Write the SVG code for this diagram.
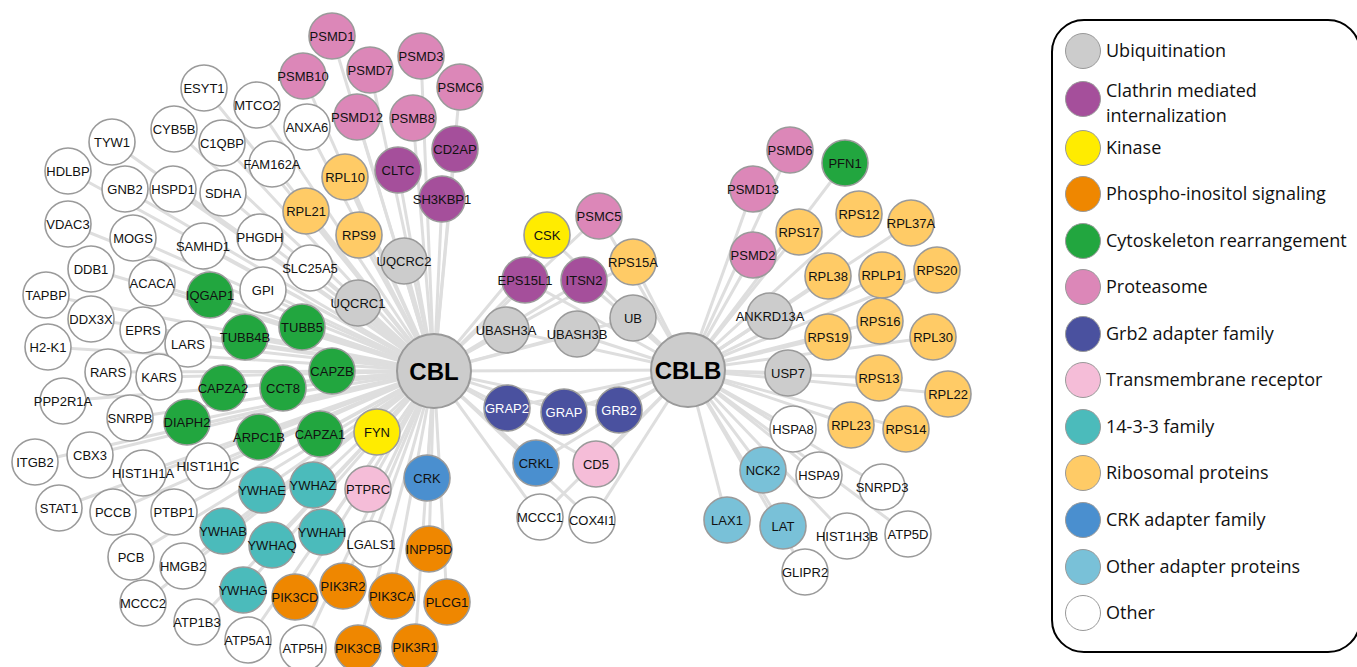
<svg xmlns="http://www.w3.org/2000/svg" width="1357" height="667" viewBox="0 0 1357 667">
<style>
.e line{stroke:#dedede;stroke-width:3}
.n circle{stroke:#9a9a9a;stroke-width:1.6}
.n text{font-family:"Liberation Sans",Arial,sans-serif;font-size:13px;text-anchor:middle;fill:#111}
.hub circle{fill:#cccccc;stroke:#9a9a9a;stroke-width:2}
.hub text{font-family:"Liberation Sans",Arial,sans-serif;font-size:24px;font-weight:bold;text-anchor:middle;fill:#000}
.ub{fill:#cccccc}.cl{fill:#a54f9b}.ki{fill:#ffec00}.ph{fill:#ef8700}.cy{fill:#22a63f}.pr{fill:#dc87b8}
.gr{fill:#4a519f}.tm{fill:#f5bdd8}.ff{fill:#4bbbbb}.ri{fill:#ffcb66}.ck{fill:#4a8fcf}.oa{fill:#79c1d8}.ot{fill:#ffffff}
.w text{fill:#fff}
.lg text{font-family:"Open Sans",sans-serif;font-size:18px;fill:#111}
.lg circle{stroke:#999;stroke-width:1}
</style>
<g class="e" id="connectors">
<line x1="434" y1="371" x2="688" y2="370"/>
<line x1="434" y1="371" x2="332" y2="36"/><line x1="434" y1="371" x2="303" y2="76"/><line x1="434" y1="371" x2="370" y2="70"/>
<line x1="434" y1="371" x2="421" y2="56"/><line x1="434" y1="371" x2="460" y2="87"/><line x1="434" y1="371" x2="357" y2="117"/>
<line x1="434" y1="371" x2="413" y2="118"/><line x1="434" y1="371" x2="455" y2="149"/><line x1="434" y1="371" x2="398" y2="170"/>
<line x1="434" y1="371" x2="442" y2="199"/><line x1="434" y1="371" x2="204" y2="88"/><line x1="434" y1="371" x2="257" y2="105"/>
<line x1="434" y1="371" x2="307" y2="127"/><line x1="434" y1="371" x2="174" y2="129"/><line x1="434" y1="371" x2="112" y2="142"/>
<line x1="434" y1="371" x2="222" y2="143"/><line x1="434" y1="371" x2="272" y2="164"/><line x1="434" y1="371" x2="345" y2="177"/>
<line x1="434" y1="371" x2="68" y2="171"/><line x1="434" y1="371" x2="125" y2="189"/><line x1="434" y1="371" x2="173" y2="189"/>
<line x1="434" y1="371" x2="223" y2="193"/><line x1="434" y1="371" x2="306" y2="211"/><line x1="434" y1="371" x2="359" y2="235"/>
<line x1="434" y1="371" x2="404" y2="261"/><line x1="434" y1="371" x2="68" y2="224"/><line x1="434" y1="371" x2="133" y2="238"/>
<line x1="434" y1="371" x2="203" y2="246"/><line x1="434" y1="371" x2="260" y2="237"/><line x1="434" y1="371" x2="310" y2="268"/>
<line x1="434" y1="371" x2="91" y2="269"/><line x1="434" y1="371" x2="152" y2="283"/><line x1="434" y1="371" x2="46" y2="295"/>
<line x1="434" y1="371" x2="210" y2="295"/><line x1="434" y1="371" x2="263" y2="290"/><line x1="434" y1="371" x2="358" y2="303"/>
<line x1="434" y1="371" x2="91" y2="319"/><line x1="434" y1="371" x2="143" y2="330"/><line x1="434" y1="371" x2="188" y2="344"/>
<line x1="434" y1="371" x2="245" y2="337"/><line x1="434" y1="371" x2="302" y2="327"/><line x1="434" y1="371" x2="48" y2="347"/>
<line x1="434" y1="371" x2="108" y2="372"/><line x1="434" y1="371" x2="159" y2="377"/><line x1="434" y1="371" x2="223" y2="388"/>
<line x1="434" y1="371" x2="283" y2="388"/><line x1="434" y1="371" x2="332" y2="371"/><line x1="434" y1="371" x2="63" y2="401"/>
<line x1="434" y1="371" x2="130" y2="418"/><line x1="434" y1="371" x2="187" y2="422"/><line x1="434" y1="371" x2="259" y2="437"/>
<line x1="434" y1="371" x2="320" y2="434"/><line x1="434" y1="371" x2="377" y2="432"/><line x1="434" y1="371" x2="35" y2="462"/>
<line x1="434" y1="371" x2="90" y2="455"/><line x1="434" y1="371" x2="143" y2="473"/><line x1="434" y1="371" x2="208" y2="466"/>
<line x1="434" y1="371" x2="262" y2="490"/><line x1="434" y1="371" x2="313" y2="485"/><line x1="434" y1="371" x2="368" y2="489"/>
<line x1="434" y1="371" x2="427" y2="478"/><line x1="434" y1="371" x2="59" y2="508"/><line x1="434" y1="371" x2="113" y2="512"/>
<line x1="434" y1="371" x2="174" y2="512"/><line x1="434" y1="371" x2="223" y2="531"/><line x1="434" y1="371" x2="272" y2="545"/>
<line x1="434" y1="371" x2="322" y2="532"/><line x1="434" y1="371" x2="371" y2="544"/><line x1="434" y1="371" x2="429" y2="549"/>
<line x1="434" y1="371" x2="131" y2="557"/><line x1="434" y1="371" x2="183" y2="566"/><line x1="434" y1="371" x2="243" y2="590"/>
<line x1="434" y1="371" x2="295" y2="597"/><line x1="434" y1="371" x2="343" y2="586"/><line x1="434" y1="371" x2="392" y2="596"/>
<line x1="434" y1="371" x2="447" y2="602"/><line x1="434" y1="371" x2="143" y2="603"/><line x1="434" y1="371" x2="197" y2="622"/>
<line x1="434" y1="371" x2="248" y2="640"/><line x1="434" y1="371" x2="303" y2="648"/><line x1="434" y1="371" x2="358" y2="648"/>
<line x1="434" y1="371" x2="415" y2="647"/>
<line x1="434" y1="371" x2="547" y2="235"/><line x1="688" y1="370" x2="547" y2="235"/>
<line x1="434" y1="371" x2="599" y2="216"/><line x1="688" y1="370" x2="599" y2="216"/>
<line x1="434" y1="371" x2="633" y2="262"/><line x1="688" y1="370" x2="633" y2="262"/>
<line x1="434" y1="371" x2="525" y2="280"/><line x1="688" y1="370" x2="525" y2="280"/>
<line x1="434" y1="371" x2="584" y2="280"/><line x1="688" y1="370" x2="584" y2="280"/>
<line x1="434" y1="371" x2="633" y2="318"/><line x1="688" y1="370" x2="633" y2="318"/>
<line x1="434" y1="371" x2="506" y2="330"/><line x1="688" y1="370" x2="506" y2="330"/>
<line x1="434" y1="371" x2="577" y2="334"/><line x1="688" y1="370" x2="577" y2="334"/>
<line x1="434" y1="371" x2="507" y2="408"/><line x1="688" y1="370" x2="507" y2="408"/>
<line x1="434" y1="371" x2="564" y2="412"/><line x1="688" y1="370" x2="564" y2="412"/>
<line x1="434" y1="371" x2="619" y2="410"/><line x1="688" y1="370" x2="619" y2="410"/>
<line x1="434" y1="371" x2="536" y2="463"/><line x1="688" y1="370" x2="536" y2="463"/>
<line x1="434" y1="371" x2="596" y2="464"/><line x1="688" y1="370" x2="596" y2="464"/>
<line x1="434" y1="371" x2="540" y2="517"/><line x1="688" y1="370" x2="540" y2="517"/>
<line x1="434" y1="371" x2="592" y2="520"/><line x1="688" y1="370" x2="592" y2="520"/>
<line x1="688" y1="370" x2="790" y2="150"/><line x1="688" y1="370" x2="845" y2="163"/><line x1="688" y1="370" x2="753" y2="189"/>
<line x1="688" y1="370" x2="859" y2="214"/><line x1="688" y1="370" x2="911" y2="223"/><line x1="688" y1="370" x2="799" y2="232"/>
<line x1="688" y1="370" x2="753" y2="255"/><line x1="688" y1="370" x2="828" y2="276"/><line x1="688" y1="370" x2="882" y2="275"/>
<line x1="688" y1="370" x2="937" y2="270"/><line x1="688" y1="370" x2="770" y2="316"/><line x1="688" y1="370" x2="880" y2="321"/>
<line x1="688" y1="370" x2="828" y2="337"/><line x1="688" y1="370" x2="933" y2="337"/><line x1="688" y1="370" x2="788" y2="373"/>
<line x1="688" y1="370" x2="879" y2="378"/><line x1="688" y1="370" x2="948" y2="394"/><line x1="688" y1="370" x2="793" y2="429"/>
<line x1="688" y1="370" x2="851" y2="425"/><line x1="688" y1="370" x2="906" y2="429"/><line x1="688" y1="370" x2="763" y2="470"/>
<line x1="688" y1="370" x2="819" y2="475"/><line x1="688" y1="370" x2="882" y2="487"/><line x1="688" y1="370" x2="727" y2="520"/>
<line x1="688" y1="370" x2="783" y2="526"/><line x1="688" y1="370" x2="847" y2="536"/><line x1="688" y1="370" x2="908" y2="534"/>
<line x1="688" y1="370" x2="805" y2="572"/>
</g>
<g id="nodes">
<g id="PSMD1" class="n"><circle class="pr" cx="332" cy="36" r="23"/><text x="332" y="36" dy="0.36em">PSMD1</text></g>
<g id="PSMB10" class="n"><circle class="pr" cx="303" cy="76" r="23"/><text x="303" y="76" dy="0.36em">PSMB10</text></g>
<g id="PSMD7" class="n"><circle class="pr" cx="370" cy="70" r="23"/><text x="370" y="70" dy="0.36em">PSMD7</text></g>
<g id="PSMD3" class="n"><circle class="pr" cx="421" cy="56" r="23"/><text x="421" y="56" dy="0.36em">PSMD3</text></g>
<g id="PSMC6" class="n"><circle class="pr" cx="460" cy="87" r="23"/><text x="460" y="87" dy="0.36em">PSMC6</text></g>
<g id="PSMD12" class="n"><circle class="pr" cx="357" cy="117" r="23"/><text x="357" y="117" dy="0.36em">PSMD12</text></g>
<g id="PSMB8" class="n"><circle class="pr" cx="413" cy="118" r="23"/><text x="413" y="118" dy="0.36em">PSMB8</text></g>
<g id="CD2AP" class="n"><circle class="cl" cx="455" cy="149" r="23"/><text x="455" y="149" dy="0.36em">CD2AP</text></g>
<g id="CLTC" class="n"><circle class="cl" cx="398" cy="170" r="23"/><text x="398" y="170" dy="0.36em">CLTC</text></g>
<g id="SH3KBP1" class="n"><circle class="cl" cx="442" cy="199" r="23"/><text x="442" y="199" dy="0.36em">SH3KBP1</text></g>
<g id="ESYT1" class="n"><circle class="ot" cx="204" cy="88" r="23"/><text x="204" y="88" dy="0.36em">ESYT1</text></g>
<g id="MTCO2" class="n"><circle class="ot" cx="257" cy="105" r="23"/><text x="257" y="105" dy="0.36em">MTCO2</text></g>
<g id="ANXA6" class="n"><circle class="ot" cx="307" cy="127" r="23"/><text x="307" y="127" dy="0.36em">ANXA6</text></g>
<g id="CYB5B" class="n"><circle class="ot" cx="174" cy="129" r="23"/><text x="174" y="129" dy="0.36em">CYB5B</text></g>
<g id="TYW1" class="n"><circle class="ot" cx="112" cy="142" r="23"/><text x="112" y="142" dy="0.36em">TYW1</text></g>
<g id="C1QBP" class="n"><circle class="ot" cx="222" cy="143" r="23"/><text x="222" y="143" dy="0.36em">C1QBP</text></g>
<g id="FAM162A" class="n"><circle class="ot" cx="272" cy="164" r="23"/><text x="272" y="164" dy="0.36em">FAM162A</text></g>
<g id="RPL10" class="n"><circle class="ri" cx="345" cy="177" r="23"/><text x="345" y="177" dy="0.36em">RPL10</text></g>
<g id="HDLBP" class="n"><circle class="ot" cx="68" cy="171" r="23"/><text x="68" y="171" dy="0.36em">HDLBP</text></g>
<g id="GNB2" class="n"><circle class="ot" cx="125" cy="189" r="23"/><text x="125" y="189" dy="0.36em">GNB2</text></g>
<g id="HSPD1" class="n"><circle class="ot" cx="173" cy="189" r="23"/><text x="173" y="189" dy="0.36em">HSPD1</text></g>
<g id="SDHA" class="n"><circle class="ot" cx="223" cy="193" r="23"/><text x="223" y="193" dy="0.36em">SDHA</text></g>
<g id="RPL21" class="n"><circle class="ri" cx="306" cy="211" r="23"/><text x="306" y="211" dy="0.36em">RPL21</text></g>
<g id="RPS9" class="n"><circle class="ri" cx="359" cy="235" r="23"/><text x="359" y="235" dy="0.36em">RPS9</text></g>
<g id="UQCRC2" class="n"><circle class="ub" cx="404" cy="261" r="23"/><text x="404" y="261" dy="0.36em">UQCRC2</text></g>
<g id="VDAC3" class="n"><circle class="ot" cx="68" cy="224" r="23"/><text x="68" y="224" dy="0.36em">VDAC3</text></g>
<g id="MOGS" class="n"><circle class="ot" cx="133" cy="238" r="23"/><text x="133" y="238" dy="0.36em">MOGS</text></g>
<g id="SAMHD1" class="n"><circle class="ot" cx="203" cy="246" r="23"/><text x="203" y="246" dy="0.36em">SAMHD1</text></g>
<g id="PHGDH" class="n"><circle class="ot" cx="260" cy="237" r="23"/><text x="260" y="237" dy="0.36em">PHGDH</text></g>
<g id="SLC25A5" class="n"><circle class="ot" cx="310" cy="268" r="23"/><text x="310" y="268" dy="0.36em">SLC25A5</text></g>
<g id="DDB1" class="n"><circle class="ot" cx="91" cy="269" r="23"/><text x="91" y="269" dy="0.36em">DDB1</text></g>
<g id="ACACA" class="n"><circle class="ot" cx="152" cy="283" r="23"/><text x="152" y="283" dy="0.36em">ACACA</text></g>
<g id="TAPBP" class="n"><circle class="ot" cx="46" cy="295" r="23"/><text x="46" y="295" dy="0.36em">TAPBP</text></g>
<g id="IQGAP1" class="n"><circle class="cy" cx="210" cy="295" r="23"/><text x="210" y="295" dy="0.36em">IQGAP1</text></g>
<g id="GPI" class="n"><circle class="ot" cx="263" cy="290" r="23"/><text x="263" y="290" dy="0.36em">GPI</text></g>
<g id="UQCRC1" class="n"><circle class="ub" cx="358" cy="303" r="23"/><text x="358" y="303" dy="0.36em">UQCRC1</text></g>
<g id="DDX3X" class="n"><circle class="ot" cx="91" cy="319" r="23"/><text x="91" y="319" dy="0.36em">DDX3X</text></g>
<g id="EPRS" class="n"><circle class="ot" cx="143" cy="330" r="23"/><text x="143" y="330" dy="0.36em">EPRS</text></g>
<g id="LARS" class="n"><circle class="ot" cx="188" cy="344" r="23"/><text x="188" y="344" dy="0.36em">LARS</text></g>
<g id="TUBB4B" class="n"><circle class="cy" cx="245" cy="337" r="23"/><text x="245" y="337" dy="0.36em">TUBB4B</text></g>
<g id="TUBB5" class="n"><circle class="cy" cx="302" cy="327" r="23"/><text x="302" y="327" dy="0.36em">TUBB5</text></g>
<g id="H2-K1" class="n"><circle class="ot" cx="48" cy="347" r="23"/><text x="48" y="347" dy="0.36em">H2-K1</text></g>
<g id="RARS" class="n"><circle class="ot" cx="108" cy="372" r="23"/><text x="108" y="372" dy="0.36em">RARS</text></g>
<g id="KARS" class="n"><circle class="ot" cx="159" cy="377" r="23"/><text x="159" y="377" dy="0.36em">KARS</text></g>
<g id="CAPZA2" class="n"><circle class="cy" cx="223" cy="388" r="23"/><text x="223" y="388" dy="0.36em">CAPZA2</text></g>
<g id="CCT8" class="n"><circle class="cy" cx="283" cy="388" r="23"/><text x="283" y="388" dy="0.36em">CCT8</text></g>
<g id="CAPZB" class="n"><circle class="cy" cx="332" cy="371" r="23"/><text x="332" y="371" dy="0.36em">CAPZB</text></g>
<g id="PPP2R1A" class="n"><circle class="ot" cx="63" cy="401" r="23"/><text x="63" y="401" dy="0.36em">PPP2R1A</text></g>
<g id="SNRPB" class="n"><circle class="ot" cx="130" cy="418" r="23"/><text x="130" y="418" dy="0.36em">SNRPB</text></g>
<g id="DIAPH2" class="n"><circle class="cy" cx="187" cy="422" r="23"/><text x="187" y="422" dy="0.36em">DIAPH2</text></g>
<g id="ARPC1B" class="n"><circle class="cy" cx="259" cy="437" r="23"/><text x="259" y="437" dy="0.36em">ARPC1B</text></g>
<g id="CAPZA1" class="n"><circle class="cy" cx="320" cy="434" r="23"/><text x="320" y="434" dy="0.36em">CAPZA1</text></g>
<g id="FYN" class="n"><circle class="ki" cx="377" cy="432" r="23"/><text x="377" y="432" dy="0.36em">FYN</text></g>
<g id="ITGB2" class="n"><circle class="ot" cx="35" cy="462" r="23"/><text x="35" y="462" dy="0.36em">ITGB2</text></g>
<g id="CBX3" class="n"><circle class="ot" cx="90" cy="455" r="23"/><text x="90" y="455" dy="0.36em">CBX3</text></g>
<g id="HIST1H1A" class="n"><circle class="ot" cx="143" cy="473" r="23"/><text x="143" y="473" dy="0.36em">HIST1H1A</text></g>
<g id="HIST1H1C" class="n"><circle class="ot" cx="208" cy="466" r="23"/><text x="208" y="466" dy="0.36em">HIST1H1C</text></g>
<g id="YWHAE" class="n"><circle class="ff" cx="262" cy="490" r="23"/><text x="262" y="490" dy="0.36em">YWHAE</text></g>
<g id="YWHAZ" class="n"><circle class="ff" cx="313" cy="485" r="23"/><text x="313" y="485" dy="0.36em">YWHAZ</text></g>
<g id="PTPRC" class="n"><circle class="tm" cx="368" cy="489" r="23"/><text x="368" y="489" dy="0.36em">PTPRC</text></g>
<g id="CRK" class="n"><circle class="ck" cx="427" cy="478" r="23"/><text x="427" y="478" dy="0.36em">CRK</text></g>
<g id="STAT1" class="n"><circle class="ot" cx="59" cy="508" r="23"/><text x="59" y="508" dy="0.36em">STAT1</text></g>
<g id="PCCB" class="n"><circle class="ot" cx="113" cy="512" r="23"/><text x="113" y="512" dy="0.36em">PCCB</text></g>
<g id="PTBP1" class="n"><circle class="ot" cx="174" cy="512" r="23"/><text x="174" y="512" dy="0.36em">PTBP1</text></g>
<g id="YWHAB" class="n"><circle class="ff" cx="223" cy="531" r="23"/><text x="223" y="531" dy="0.36em">YWHAB</text></g>
<g id="YWHAQ" class="n"><circle class="ff" cx="272" cy="545" r="23"/><text x="272" y="545" dy="0.36em">YWHAQ</text></g>
<g id="YWHAH" class="n"><circle class="ff" cx="322" cy="532" r="23"/><text x="322" y="532" dy="0.36em">YWHAH</text></g>
<g id="LGALS1" class="n"><circle class="ot" cx="371" cy="544" r="23"/><text x="371" y="544" dy="0.36em">LGALS1</text></g>
<g id="INPP5D" class="n"><circle class="ph" cx="429" cy="549" r="23"/><text x="429" y="549" dy="0.36em">INPP5D</text></g>
<g id="PCB" class="n"><circle class="ot" cx="131" cy="557" r="23"/><text x="131" y="557" dy="0.36em">PCB</text></g>
<g id="HMGB2" class="n"><circle class="ot" cx="183" cy="566" r="23"/><text x="183" y="566" dy="0.36em">HMGB2</text></g>
<g id="YWHAG" class="n"><circle class="ff" cx="243" cy="590" r="23"/><text x="243" y="590" dy="0.36em">YWHAG</text></g>
<g id="PIK3CD" class="n"><circle class="ph" cx="295" cy="597" r="23"/><text x="295" y="597" dy="0.36em">PIK3CD</text></g>
<g id="PIK3R2" class="n"><circle class="ph" cx="343" cy="586" r="23"/><text x="343" y="586" dy="0.36em">PIK3R2</text></g>
<g id="PIK3CA" class="n"><circle class="ph" cx="392" cy="596" r="23"/><text x="392" y="596" dy="0.36em">PIK3CA</text></g>
<g id="PLCG1" class="n"><circle class="ph" cx="447" cy="602" r="23"/><text x="447" y="602" dy="0.36em">PLCG1</text></g>
<g id="MCCC2" class="n"><circle class="ot" cx="143" cy="603" r="23"/><text x="143" y="603" dy="0.36em">MCCC2</text></g>
<g id="ATP1B3" class="n"><circle class="ot" cx="197" cy="622" r="23"/><text x="197" y="622" dy="0.36em">ATP1B3</text></g>
<g id="ATP5A1" class="n"><circle class="ot" cx="248" cy="640" r="23"/><text x="248" y="640" dy="0.36em">ATP5A1</text></g>
<g id="ATP5H" class="n"><circle class="ot" cx="303" cy="648" r="23"/><text x="303" y="648" dy="0.36em">ATP5H</text></g>
<g id="PIK3CB" class="n"><circle class="ph" cx="358" cy="648" r="23"/><text x="358" y="648" dy="0.36em">PIK3CB</text></g>
<g id="PIK3R1" class="n"><circle class="ph" cx="415" cy="647" r="23"/><text x="415" y="647" dy="0.36em">PIK3R1</text></g>
<g id="CSK" class="n"><circle class="ki" cx="547" cy="235" r="23"/><text x="547" y="235" dy="0.36em">CSK</text></g>
<g id="PSMC5" class="n"><circle class="pr" cx="599" cy="216" r="23"/><text x="599" y="216" dy="0.36em">PSMC5</text></g>
<g id="RPS15A" class="n"><circle class="ri" cx="633" cy="262" r="23"/><text x="633" y="262" dy="0.36em">RPS15A</text></g>
<g id="EPS15L1" class="n"><circle class="cl" cx="525" cy="280" r="23"/><text x="525" y="280" dy="0.36em">EPS15L1</text></g>
<g id="ITSN2" class="n"><circle class="cl" cx="584" cy="280" r="23"/><text x="584" y="280" dy="0.36em">ITSN2</text></g>
<g id="UB" class="n"><circle class="ub" cx="633" cy="318" r="23"/><text x="633" y="318" dy="0.36em">UB</text></g>
<g id="UBASH3A" class="n"><circle class="ub" cx="506" cy="330" r="23"/><text x="506" y="330" dy="0.36em">UBASH3A</text></g>
<g id="UBASH3B" class="n"><circle class="ub" cx="577" cy="334" r="23"/><text x="577" y="334" dy="0.36em">UBASH3B</text></g>
<g id="GRAP2" class="n w"><circle class="gr" cx="507" cy="408" r="23"/><text x="507" y="408" dy="0.36em">GRAP2</text></g>
<g id="GRAP" class="n w"><circle class="gr" cx="564" cy="412" r="23"/><text x="564" y="412" dy="0.36em">GRAP</text></g>
<g id="GRB2" class="n w"><circle class="gr" cx="619" cy="410" r="23"/><text x="619" y="410" dy="0.36em">GRB2</text></g>
<g id="CRKL" class="n"><circle class="ck" cx="536" cy="463" r="23"/><text x="536" y="463" dy="0.36em">CRKL</text></g>
<g id="CD5" class="n"><circle class="tm" cx="596" cy="464" r="23"/><text x="596" y="464" dy="0.36em">CD5</text></g>
<g id="MCCC1" class="n"><circle class="ot" cx="540" cy="517" r="23"/><text x="540" y="517" dy="0.36em">MCCC1</text></g>
<g id="COX4I1" class="n"><circle class="ot" cx="592" cy="520" r="23"/><text x="592" y="520" dy="0.36em">COX4I1</text></g>
<g id="PSMD6" class="n"><circle class="pr" cx="790" cy="150" r="23"/><text x="790" y="150" dy="0.36em">PSMD6</text></g>
<g id="PFN1" class="n"><circle class="cy" cx="845" cy="163" r="23"/><text x="845" y="163" dy="0.36em">PFN1</text></g>
<g id="PSMD13" class="n"><circle class="pr" cx="753" cy="189" r="23"/><text x="753" y="189" dy="0.36em">PSMD13</text></g>
<g id="RPS12" class="n"><circle class="ri" cx="859" cy="214" r="23"/><text x="859" y="214" dy="0.36em">RPS12</text></g>
<g id="RPL37A" class="n"><circle class="ri" cx="911" cy="223" r="23"/><text x="911" y="223" dy="0.36em">RPL37A</text></g>
<g id="RPS17" class="n"><circle class="ri" cx="799" cy="232" r="23"/><text x="799" y="232" dy="0.36em">RPS17</text></g>
<g id="PSMD2" class="n"><circle class="pr" cx="753" cy="255" r="23"/><text x="753" y="255" dy="0.36em">PSMD2</text></g>
<g id="RPL38" class="n"><circle class="ri" cx="828" cy="276" r="23"/><text x="828" y="276" dy="0.36em">RPL38</text></g>
<g id="RPLP1" class="n"><circle class="ri" cx="882" cy="275" r="23"/><text x="882" y="275" dy="0.36em">RPLP1</text></g>
<g id="RPS20" class="n"><circle class="ri" cx="937" cy="270" r="23"/><text x="937" y="270" dy="0.36em">RPS20</text></g>
<g id="ANKRD13A" class="n"><circle class="ub" cx="770" cy="316" r="23"/><text x="770" y="316" dy="0.36em">ANKRD13A</text></g>
<g id="RPS16" class="n"><circle class="ri" cx="880" cy="321" r="23"/><text x="880" y="321" dy="0.36em">RPS16</text></g>
<g id="RPS19" class="n"><circle class="ri" cx="828" cy="337" r="23"/><text x="828" y="337" dy="0.36em">RPS19</text></g>
<g id="RPL30" class="n"><circle class="ri" cx="933" cy="337" r="23"/><text x="933" y="337" dy="0.36em">RPL30</text></g>
<g id="USP7" class="n"><circle class="ub" cx="788" cy="373" r="23"/><text x="788" y="373" dy="0.36em">USP7</text></g>
<g id="RPS13" class="n"><circle class="ri" cx="879" cy="378" r="23"/><text x="879" y="378" dy="0.36em">RPS13</text></g>
<g id="RPL22" class="n"><circle class="ri" cx="948" cy="394" r="23"/><text x="948" y="394" dy="0.36em">RPL22</text></g>
<g id="HSPA8" class="n"><circle class="ot" cx="793" cy="429" r="23"/><text x="793" y="429" dy="0.36em">HSPA8</text></g>
<g id="RPL23" class="n"><circle class="ri" cx="851" cy="425" r="23"/><text x="851" y="425" dy="0.36em">RPL23</text></g>
<g id="RPS14" class="n"><circle class="ri" cx="906" cy="429" r="23"/><text x="906" y="429" dy="0.36em">RPS14</text></g>
<g id="NCK2" class="n"><circle class="oa" cx="763" cy="470" r="23"/><text x="763" y="470" dy="0.36em">NCK2</text></g>
<g id="HSPA9" class="n"><circle class="ot" cx="819" cy="475" r="23"/><text x="819" y="475" dy="0.36em">HSPA9</text></g>
<g id="SNRPD3" class="n"><circle class="ot" cx="882" cy="487" r="23"/><text x="882" y="487" dy="0.36em">SNRPD3</text></g>
<g id="LAX1" class="n"><circle class="oa" cx="727" cy="520" r="23"/><text x="727" y="520" dy="0.36em">LAX1</text></g>
<g id="LAT" class="n"><circle class="oa" cx="783" cy="526" r="23"/><text x="783" y="526" dy="0.36em">LAT</text></g>
<g id="HIST1H3B" class="n"><circle class="ot" cx="847" cy="536" r="23"/><text x="847" y="536" dy="0.36em">HIST1H3B</text></g>
<g id="ATP5D" class="n"><circle class="ot" cx="908" cy="534" r="23"/><text x="908" y="534" dy="0.36em">ATP5D</text></g>
<g id="GLIPR2" class="n"><circle class="ot" cx="805" cy="572" r="23"/><text x="805" y="572" dy="0.36em">GLIPR2</text></g>
<g id="CBL" class="hub"><circle cx="434" cy="371" r="37"/><text x="434" y="371" dy="0.36em">CBL</text></g>
<g id="CBLB" class="hub"><circle cx="688" cy="370" r="37"/><text x="688" y="370" dy="0.36em">CBLB</text></g>
</g>
<g id="legend" class="lg">
<rect x="1052" y="20" width="308" height="632" rx="32" ry="32" fill="#fff" stroke="#000" stroke-width="2"/>
<circle class="ub" cx="1083" cy="51" r="17.5"/><text x="1106" y="57">Ubiquitination</text>
<circle class="cl" cx="1083" cy="99" r="17.5"/><text x="1106" y="97">Clathrin mediated</text><text x="1106" y="122">internalization</text>
<circle class="ki" cx="1083" cy="148" r="17.5"/><text x="1106" y="154">Kinase</text>
<circle class="ph" cx="1083" cy="194" r="17.5"/><text x="1106" y="200">Phospho-inositol signaling</text>
<circle class="cy" cx="1083" cy="241" r="17.5"/><text x="1106" y="247">Cytoskeleton rearrangement</text>
<circle class="pr" cx="1083" cy="287" r="17.5"/><text x="1106" y="293">Proteasome</text>
<circle class="gr" cx="1083" cy="334" r="17.5"/><text x="1106" y="340">Grb2 adapter family</text>
<circle class="tm" cx="1083" cy="380" r="17.5"/><text x="1106" y="386">Transmembrane receptor</text>
<circle class="ff" cx="1083" cy="427" r="17.5"/><text x="1106" y="433">14-3-3 family</text>
<circle class="ri" cx="1083" cy="473" r="17.5"/><text x="1106" y="479">Ribosomal proteins</text>
<circle class="ck" cx="1083" cy="520" r="17.5"/><text x="1106" y="526">CRK adapter family</text>
<circle class="oa" cx="1083" cy="567" r="17.5"/><text x="1106" y="573">Other adapter proteins</text>
<circle class="ot" cx="1083" cy="613" r="17.5"/><text x="1106" y="619">Other</text>
</g>
</svg>
